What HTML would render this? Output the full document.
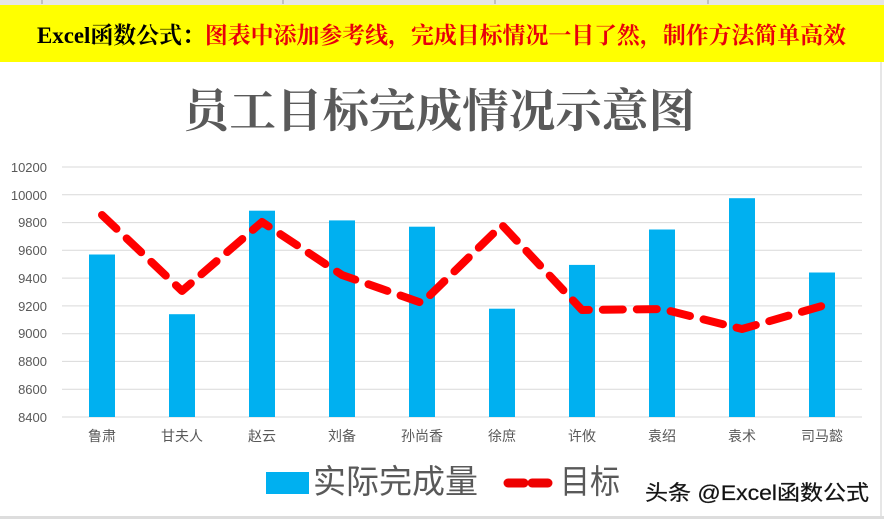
<!DOCTYPE html>
<html><head><meta charset="utf-8"><style>
html,body{margin:0;padding:0;background:#fff;}
svg{display:block;}
</style></head><body>
<svg width="884" height="519" xmlns="http://www.w3.org/2000/svg">
<rect x="0" y="0" width="884" height="519" fill="#fff"/>
<rect x="0" y="0" width="884" height="5" fill="#e6e6e6"/>
<g stroke="#9a9a9a" stroke-width="1"><line x1="42" y1="0" x2="42" y2="4"/><line x1="283" y1="0" x2="283" y2="4"/><line x1="495" y1="0" x2="495" y2="4"/><line x1="708" y1="0" x2="708" y2="4"/></g>
<rect x="0" y="5" width="884" height="57" fill="#ffff00"/>
<text x="37" y="43" font-family="'Liberation Serif','Noto Serif CJK SC',serif" font-weight="bold" font-size="23" textLength="809" lengthAdjust="spacingAndGlyphs"><tspan fill="#000">Excel函数公式：</tspan><tspan fill="#e8000b">图表中添加参考线，完成目标情况一目了然，制作方法简单高效</tspan></text>
<line x1="881" y1="62" x2="881" y2="519" stroke="#ccc"/>
<text x="183" y="127" font-family="'Liberation Serif','Noto Serif CJK SC',serif" font-weight="bold" font-size="46" fill="#595959" textLength="512" lengthAdjust="spacingAndGlyphs">员工目标完成情况示意图</text>
<g stroke="#d9d9d9" stroke-width="1">
<line x1="62" y1="167" x2="862" y2="167"/><line x1="62" y1="194.8" x2="862" y2="194.8"/><line x1="62" y1="222.6" x2="862" y2="222.6"/><line x1="62" y1="250.3" x2="862" y2="250.3"/><line x1="62" y1="278.1" x2="862" y2="278.1"/><line x1="62" y1="305.9" x2="862" y2="305.9"/><line x1="62" y1="333.7" x2="862" y2="333.7"/><line x1="62" y1="361.4" x2="862" y2="361.4"/><line x1="62" y1="389.2" x2="862" y2="389.2"/><line x1="62" y1="417" x2="862" y2="417"/>
</g>
<g font-family="'Liberation Sans',sans-serif" font-size="13" fill="#595959" text-anchor="end">
<text x="47" y="172">10200</text><text x="47" y="200">10000</text><text x="47" y="227">9800</text><text x="47" y="255">9600</text><text x="47" y="283">9400</text><text x="47" y="311">9200</text><text x="47" y="338">9000</text><text x="47" y="366">8800</text><text x="47" y="394">8600</text><text x="47" y="422">8400</text>
</g>
<g fill="#00b0f0">
<rect x="89" y="254.5" width="26" height="162.5"/>
<rect x="169" y="314.2" width="26" height="102.8"/>
<rect x="249" y="210.7" width="26" height="206.3"/>
<rect x="329" y="220.4" width="26" height="196.6"/>
<rect x="409" y="226.7" width="26" height="190.3"/>
<rect x="489" y="308.7" width="26" height="108.3"/>
<rect x="569" y="264.9" width="26" height="152.1"/>
<rect x="649" y="229.5" width="26" height="187.5"/>
<rect x="729" y="198.2" width="26" height="218.8"/>
<rect x="809" y="272.5" width="26" height="144.5"/>
</g>
<polyline points="102,215 182,291 262,222 342,275 422,303 502,225 582,310 662,309 742,329 822,306" fill="none" stroke="#f00" stroke-width="8" stroke-dasharray="20,14" stroke-linecap="round" stroke-linejoin="round"/>
<g font-family="'Liberation Sans','Noto Sans CJK SC',sans-serif" font-size="14" fill="#595959" text-anchor="middle">
<text x="102" y="441">鲁肃</text><text x="182" y="441">甘夫人</text><text x="262" y="441">赵云</text><text x="342" y="441">刘备</text><text x="422" y="441">孙尚香</text><text x="502" y="441">徐庶</text><text x="582" y="441">许攸</text><text x="662" y="441">袁绍</text><text x="742" y="441">袁术</text><text x="822" y="441">司马懿</text>
</g>
<rect x="266" y="472" width="43" height="22" fill="#00b0f0"/>
<text x="313" y="493" font-family="'Liberation Sans','Noto Sans CJK SC',sans-serif" font-size="33" fill="#595959" textLength="165" lengthAdjust="spacingAndGlyphs">实际完成量</text>
<line x1="508" y1="483" x2="550" y2="483" stroke="#e00" stroke-width="9" stroke-dasharray="16,8" stroke-linecap="round"/>
<text x="560" y="493" font-family="'Liberation Sans','Noto Sans CJK SC',sans-serif" font-size="33" fill="#595959" textLength="60" lengthAdjust="spacingAndGlyphs">目标</text>
<text x="645" y="500" font-family="'Liberation Sans','Noto Sans CJK SC',sans-serif" font-size="21" fill="#111" stroke="#333" stroke-width="0.3" textLength="224" lengthAdjust="spacingAndGlyphs">头条 @Excel函数公式</text>
<rect x="0" y="516" width="884" height="3" fill="#ddd"/>
</svg>
</body></html>
